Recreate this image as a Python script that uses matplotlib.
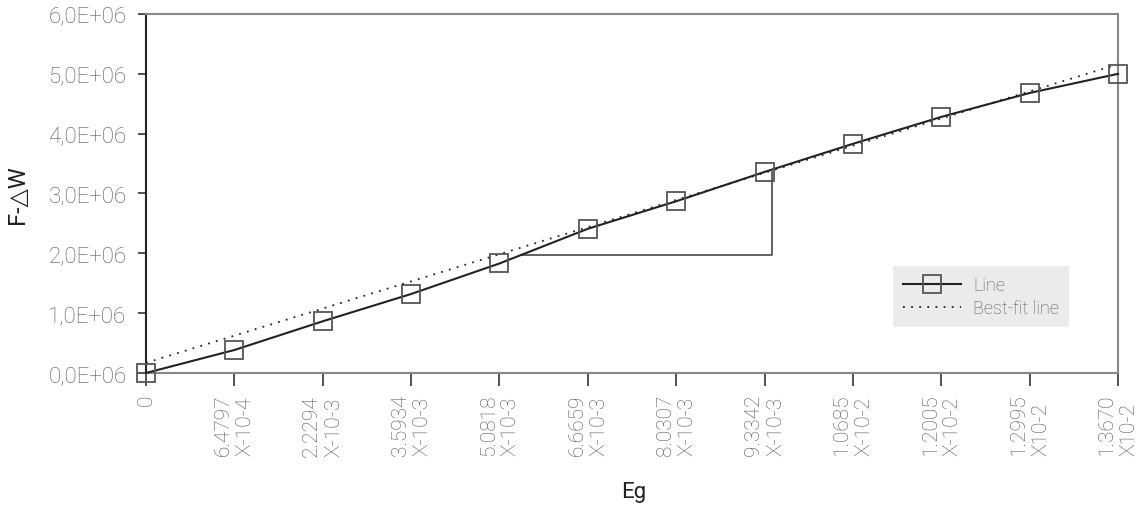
import matplotlib
matplotlib.use("Agg")
import matplotlib.pyplot as plt
import numpy as np

# ---- data ----
x_labels = ["0", "6.4797\nX-10-4", "2.2294\nX-10-3", "3.5934\nX-10-3", "5.0818\nX-10-3",
            "6.6659\nX-10-3", "8.0307\nX-10-3", "9.3342\nX-10-3", "1.0685\nX-10-2",
            "1.2005\nX-10-2", "1.2995\nX10-2", "1.3670\nX10-2"]
line_values = [0.0, 0.384e6, 0.864e6, 1.32e6, 1.83e6, 2.41e6, 2.87e6, 3.36e6,
               3.83e6, 4.28e6, 4.68e6, 5.0e6]
fit_start = 0.17e6
fit_end = 5.16e6
y_ticks = [0, 1e6, 2e6, 3e6, 4e6, 5e6, 6e6]
y_tick_labels = ["0,0E+06", "1,0E+06", "2,0E+06", "3,0E+06", "4,0E+06", "5,0E+06", "6,0E+06"]
tri_level = 1.97e6      # horizontal level of slope triangle
tri_point = 7           # index of the point the triangle rises to

FONT = ["Roboto", "DejaVu Sans"]
plt.rcParams['font.family'] = FONT

fig = plt.figure(figsize=(11.44, 5.06), dpi=100)
ax = fig.add_axes([0.1276, 0.2609, 0.9773 - 0.1276, 0.9704 - 0.2609])

xs = np.arange(len(line_values))
ax.plot(xs, line_values, color="#222222", lw=1.5, marker="s", markersize=13,
        markerfacecolor="none", markeredgecolor="#555555", markeredgewidth=1.3,
        label="Line", clip_on=False, zorder=3)
ax.plot([xs[0], xs[-1]], [fit_start, fit_end], color="#222222", lw=1.3,
        linestyle=(0, (1, 3.5)), label="Best-fit line", clip_on=False, zorder=2)

# slope triangle
vals = np.array(line_values)
i = np.searchsorted(vals, tri_level)
x_start = xs[i - 1] + (tri_level - vals[i - 1]) / (vals[i] - vals[i - 1])
x_vert = tri_point + 0.08
ax.plot([x_start, x_vert, x_vert], [tri_level, tri_level, line_values[tri_point]],
        color="#555555", lw=1.3, zorder=1)

ax.set_xlim(0, len(line_values) - 1)
ax.set_ylim(0, 6e6)
ax.set_xticks(xs)
ax.set_xticklabels(x_labels, rotation=90, ha="center", va="top", multialignment="left",
                   fontsize=15, color="#555555", fontweight="light", linespacing=1.2)
ax.set_yticks(y_ticks)
ax.set_yticklabels(y_tick_labels, fontsize=16, color="#555555", fontweight="light")
ax.tick_params(axis="x", length=9, width=1.2, color="#333333", pad=6)
ax.tick_params(axis="y", length=6, width=1.2, color="#333333", pad=8)

ax.spines["left"].set_color("#222222")
ax.spines["left"].set_linewidth(1.5)
for s in ["top", "right", "bottom"]:
    ax.spines[s].set_color("#888888")
    ax.spines[s].set_linewidth(1.5)

ax.set_xlabel("Eg", fontsize=16, color="#222222")
ax.xaxis.set_label_coords(0.502, -0.30)
ax.set_ylabel("F-△W", fontsize=17, color="#222222", labelpad=14)

leg = ax.legend(loc="upper left", bbox_to_anchor=(0.7685, 0.298), frameon=True,
                fancybox=False, facecolor="#ebebeb", edgecolor="none", framealpha=1,
                fontsize=13, handlelength=3.2, borderpad=0.55, labelspacing=0.3,
                handletextpad=0.7, borderaxespad=0)
for t in leg.get_texts():
    t.set_color("#555555")
    t.set_fontweight("light")

fig.savefig("out.png", dpi=100)
